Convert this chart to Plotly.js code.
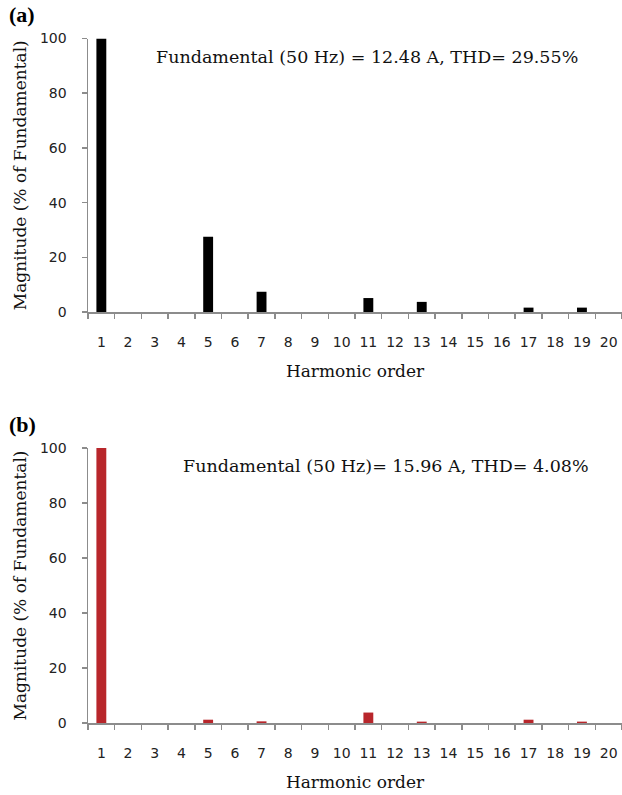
<!DOCTYPE html>
<html>
<head>
<meta charset="utf-8">
<script src="https://cdn.plot.ly/plotly-3.0.1.min.js"></script>
<style>
html,body{margin:0;padding:0;background:#fff;}
#chart{width:622px;height:795px;}
</style>
</head>
<body>
<div id="chart"></div>
<script>
// Harmonic orders (categories)
const harmonics = ['1','2','3','4','5','6','7','8','9','10','11','12','13','14','15','16','17','18','19','20'];
// (a) magnitude, % of fundamental
const magA = [100,0,0,0,27.5,0,7.4,0,0,0,5.1,0,3.7,0,0,0,1.6,0,1.6,0];
// (b) magnitude, % of fundamental
const magB = [100,0,0,0,1.2,0,0.6,0,0,0,3.8,0,0.5,0,0,0,1.2,0,0.5,0];
const yTicks = [0,20,40,60,80,100];
const labelA = 'Fundamental (50 Hz) = 12.48 A, THD= 29.55%';
const labelB = 'Fundamental (50 Hz)= 15.96 A, THD= 4.08%';
const panelA = '(a)';
const panelB = '(b)';
const xTitle = 'Harmonic order';
const yTitle = 'Magnitude (% of Fundamental)';

const serif = 'DejaVu Serif, Liberation Serif, serif';
const sans = 'DejaVu Sans, sans-serif';

const traces = [
  {type:'bar', x:harmonics, y:magA, xaxis:'x', yaxis:'y', width:0.37,
   marker:{color:'#000000', line:{width:0}}, hoverinfo:'x+y'},
  {type:'bar', x:harmonics, y:magB, xaxis:'x2', yaxis:'y2', width:0.37,
   marker:{color:'#b8262b', line:{width:0}}, hoverinfo:'x+y'}
];

function xax(anchor){
  return {
    anchor:anchor, type:'category', categoryorder:'array', categoryarray:harmonics,
    showline:true, linecolor:'#8c8c8c', linewidth:1.5, zeroline:false, showgrid:false,
    ticks:'outside', tickson:'boundaries', ticklen:5, tickcolor:'#8c8c8c', tickwidth:1.5,
    tickangle:0, automargin:false,
    tickfont:{family:sans, size:14, color:'#222'}, ticklabelstandoff:17,
    title:{text:xTitle, font:{family:serif, size:17, color:'#111'}, standoff:16}
  };
}
function yax(anchor, dom){
  return {
    anchor:anchor, domain:dom, range:[0,100], tickvals:yTicks,
    showline:true, linecolor:'#8c8c8c', linewidth:1.5, zeroline:false, showgrid:false,
    ticks:'outside', ticklen:5, tickcolor:'#8c8c8c', tickwidth:1.5,
    tickfont:{family:sans, size:14, color:'#222'}, ticklabelstandoff:12,
    title:{text:yTitle, font:{family:serif, size:17, color:'#111'}, standoff:9}
  };
}

const layout = {
  width:622, height:795, paper_bgcolor:'#fff', plot_bgcolor:'#fff',
  margin:{l:88, r:0, t:0, b:0}, showlegend:false,
  xaxis: Object.assign(xax('y'), {domain:[0,1]}),
  yaxis: yax('x', [1-312/795, 1-38.5/795]),
  xaxis2: Object.assign(xax('y2'), {domain:[0,1]}),
  yaxis2: yax('x2', [1-723/795, 1-448/795]),
  annotations:[
    {text:labelA, xref:'paper', yref:'paper', x:(366.5-88)/534, y:1-57/795, xanchor:'center', yanchor:'middle', showarrow:false,
     font:{family:serif, size:17.5, color:'#111'}},
    {text:labelB, xref:'paper', yref:'paper', x:(386-88)/534, y:1-466/795, xanchor:'center', yanchor:'middle', showarrow:false,
     font:{family:serif, size:17.5, color:'#111'}},
    {text:'<b>'+panelA+'</b>', xref:'paper', yref:'paper', x:(7-88)/534, y:1-15/795, xanchor:'left', yanchor:'middle', showarrow:false,
     font:{family:'Liberation Serif, serif', size:22, color:'#000'}},
    {text:'<b>'+panelB+'</b>', xref:'paper', yref:'paper', x:(7-88)/534, y:1-424/795, xanchor:'left', yanchor:'middle', showarrow:false,
     font:{family:'Liberation Serif, serif', size:22, color:'#000'}}
  ]
};

Plotly.newPlot('chart', traces, layout, {displayModeBar:false, staticPlot:true});
</script>
</body>
</html>
